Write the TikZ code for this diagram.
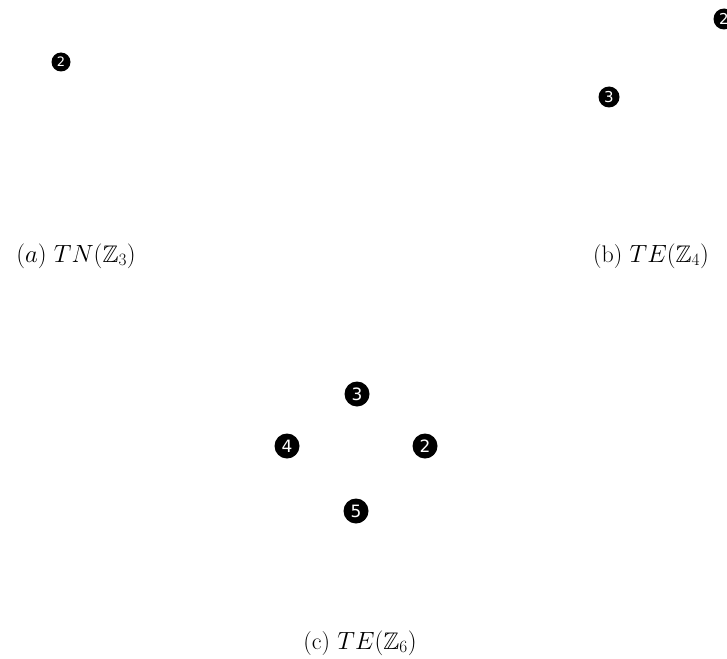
\documentclass[tikz,border=0pt]{standalone}
\usepackage{amssymb}
\usepackage{fontspec}
\newfontfamily\dejavu{DejaVu Sans}
% subscript set at a larger size than the default script style
\newcommand\zsub[1]{_{\hbox{\fontsize{17}{17}\selectfont$#1$}}}
\tikzset{
  vtx/.style={circle, fill=black, inner sep=0pt, minimum size=19pt,
              text=white, font=\dejavu\fontsize{13}{13}\selectfont},
  vtxb/.style={vtx, minimum size=21pt, font=\dejavu\fontsize{15}{15}\selectfont},
  vtxc/.style={vtx, minimum size=25pt, font=\dejavu\fontsize{17}{17}\selectfont},
  captext/.style={font=\fontsize{24}{26}\selectfont, inner sep=0pt}
}
\begin{document}
\begin{tikzpicture}[x=1pt, y=-1pt]
  \useasboundingbox (0,0) rectangle (727,658);
  % panel (a)
  \node[vtx] (a2) at (61,62) {2};
  \node[captext] (capa) at (76,256) {$(a)$ $TN(\mathbb{Z}\zsub{3})$};
  % panel (b)
  \node[vtxb] (b2) at (724,19) {2};
  \node[vtxb] (b3) at (609,97) {3};
  \node[captext] (capb) at (651,256) {(b) $TE(\mathbb{Z}\zsub{4})$};
  % panel (c)
  \node[vtxc] (c3) at (357,394) {3};
  \node[vtxc] (c4) at (287,446) {4};
  \node[vtxc] (c2) at (425,446) {2};
  \node[vtxc] (c5) at (356,511) {5};
  \node[captext] (capc) at (360,643) {(c) $TE(\mathbb{Z}\zsub{6})$};
\end{tikzpicture}
\end{document}
